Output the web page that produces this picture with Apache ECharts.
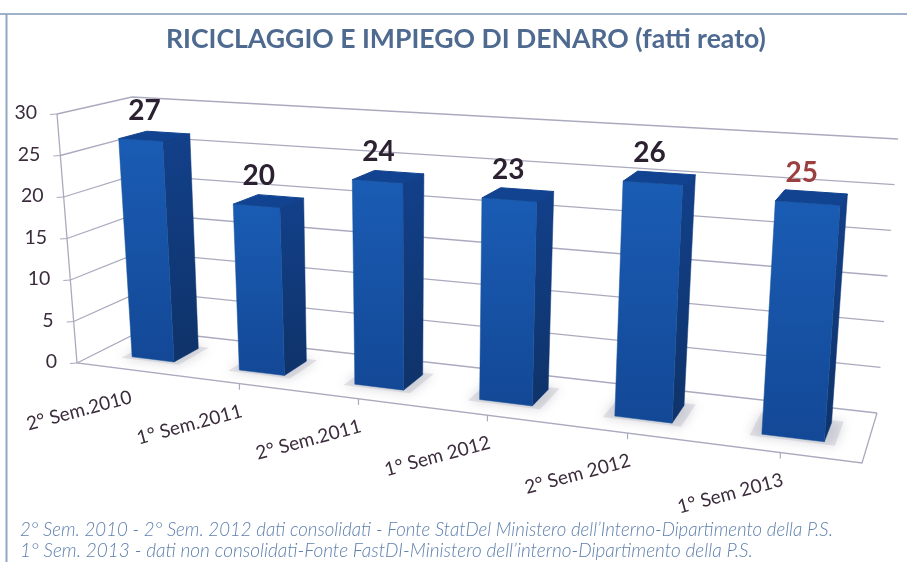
<!DOCTYPE html>
<html><head><meta charset="utf-8">
<style>html,body{margin:0;padding:0;background:#fff}#c{width:907px;height:562px}</style>
<script src="https://cdn.jsdelivr.net/npm/echarts@6/dist/echarts.min.js"></script>
</head><body><div id="c"></div>
<script>
const categories = ['2° Sem.2010','1° Sem.2011','2° Sem.2011','1° Sem 2012','2° Sem 2012','1° Sem 2013'];
const values = [27,20,24,23,26,25];
const yTicks = [0,5,10,15,20,25,30];
const titleText = 'RICICLAGGIO E IMPIEGO DI DENARO (fatti reato)';
const footnotes = [
 "2° Sem. 2010 - 2° Sem. 2012 dati consolidati - Fonte StatDel Ministero dell’Interno-Dipartimento della P.S.",
 "1° Sem. 2013 - dati non consolidati-Fonte FastDI-Ministero dell’interno-Dipartimento della P.S."
];

// perspective frame of the 3D box: corners in order FL, FR, BR, BL
const floorQuad = [[77,363],[862,463],[877,413],[143,330]];
const topQuad = [[57,114],[883,165],[898,139],[132,97]];
function homography(q){
  const [[x0,y0],[x1,y1],[x2,y2],[x3,y3]] = q;
  const dx1=x1-x2,dx2=x3-x2,sx=x0-x1+x2-x3,dy1=y1-y2,dy2=y3-y2,sy=y0-y1+y2-y3;
  const den=dx1*dy2-dx2*dy1;
  const g=(sx*dy2-dx2*sy)/den,h=(dx1*sy-sx*dy1)/den;
  const a=x1-x0+g*x1,b=x3-x0+h*x3,c=x0,d=y1-y0+g*y1,e=y3-y0+h*y3,f=y0;
  return (u,v)=>{const w=g*u+h*v+1;return [(a*u+b*v+c)/w,(d*u+e*v+f)/w];};
}
const hFloor=homography(floorQuad), hTop=homography(topQuad);
function project(u,d,v){
  const a=hFloor(u,d),b=hTop(u,d);
  return [a[0]+(b[0]-a[0])*v,a[1]+(b[1]-a[1])*v];
}
function norm(params,api,x,y){
  const p=api.coord([x,y]),cs=params.coordSys;
  return {u:(p[0]-cs.x)/cs.width,v:(cs.y+cs.height-p[1])/cs.height};
}
const BAR=0.40, D0=0.30, D1=0.69, U_SHIFT=0.006, V_SCALE=0.985;
const GRID='#aaaabf', INK='#3b2c3c';

function renderGrid(params,api){
  const val=api.value(1);
  const {v}=norm(params,api,0,val);
  const a=project(0,0,v),b=project(0,1,v),c=project(1,1,v);
  const kids=[
    {type:'polyline',shape:{points:[a,b,c]},style:{stroke:GRID,lineWidth:1.3,fill:null}},
    {type:'line',shape:{x1:a[0]-7,y1:a[1]+0.5,x2:a[0],y2:a[1]},style:{stroke:GRID,lineWidth:1.2}},
    {type:'text',x:a[0]-20,y:a[1]-1,style:{text:String(val),fontFamily:'Lato',fontSize:19.5,fill:INK,align:'right',verticalAlign:'middle'}}
  ];
  return {type:'group',children:kids};
}
function renderFrame(params,api){
  const pts=[project(0,0,1),project(0,0,0),project(1,0,0),project(1,1,0)];
  const kids=[{type:'polyline',shape:{points:pts},style:{stroke:GRID,lineWidth:1.3,fill:null}}];
  for(let i=1;i<=categories.length;i++){
    const u=norm(params,api,i-0.5,0).u, p=project(u,0,0);
    kids.push({type:'line',shape:{x1:p[0],y1:p[1],x2:p[0]-(i===categories.length?1:0),y2:p[1]+6},style:{stroke:GRID,lineWidth:1.2}});
  }
  return {type:'group',children:kids};
}
function renderXLabel(params,api){
  const i=api.value(0);
  const {u}=norm(params,api,i,0);
  const p=project(u,0,0);
  return {type:'text',x:p[0]-50,y:p[1]+41,rotation:15*Math.PI/180,
    style:{text:categories[i],fontFamily:'Lato',fontSize:19,fill:INK,align:'center',verticalAlign:'middle'}};
}
function renderBar(params,api){
  const i=api.value(0), val=api.value(1);
  const n=norm(params,api,i,val);
  const u=n.u+U_SHIFT, v=n.v*V_SCALE;
  const band=api.size([1,0])[0]/params.coordSys.width;
  const h=BAR*band/2, l=u-h, r=u+h;
  const A=(uu,d,vv)=>project(uu,d,vv);
  const e=0.012, ed=0.05;
  const foot=[A(l-e,D0-ed,0),A(r+e,D0-ed,0),A(r+e,D1+ed,0),A(l-e,D1+ed,0)];
  const side=[A(r,D0,v),A(r,D1,v),A(r,D1,0),A(r,D0,0)];
  const front=[A(l,D0,v),A(r,D0,v),A(r,D0,0),A(l,D0,0)];
  const top=[A(l,D0,v),A(r,D0,v),A(r,D1,v),A(l,D1,v)];
  const grad=(c1,c2)=>new echarts.graphic.LinearGradient(0,0,0,1,[{offset:0,color:c1},{offset:1,color:c2}]);
  return {type:'group',children:[
    {type:'polygon',shape:{points:foot},style:{fill:'rgba(170,170,185,0.3)',shadowBlur:12,shadowColor:'rgba(110,110,130,0.9)'}},
    {type:'polygon',shape:{points:top},style:{fill:'#114391',stroke:'#114391',lineWidth:1,lineJoin:'round'}},
    {type:'polygon',shape:{points:side},style:{fill:grad('#12408a','#0f3369'),stroke:'#12397a',lineWidth:0.5}},
    {type:'polygon',shape:{points:front},style:{fill:grad('#1a5cb4','#134896'),stroke:'#175299',lineWidth:0.5}}
  ]};
}
function renderValue(params,api){
  const i=api.value(0), val=api.value(1);
  const n=norm(params,api,i,val);
  const p=project(n.u+U_SHIFT,(D0+D1)/2,n.v*V_SCALE);
  return {type:'text',x:p[0]-10,y:p[1]-25,
    style:{text:String(val),fontFamily:'Lato',fontWeight:'bold',fontSize:28,fill:i===values.length-1?'#9c3f3f':'#2b2130',align:'center',verticalAlign:'middle'}};
}
const barData=values.map((y,i)=>[i,y]);
const base={type:'custom',clip:false,silent:true};
const chart=echarts.init(document.getElementById('c'),null,{renderer:'canvas'});
chart.setOption({
  animation:false,
  backgroundColor:'#ffffff',
  title:{text:titleText,left:161,top:21,textStyle:{fontFamily:'Lato',fontSize:26.6,fontWeight:'bold',color:'#4f6a90'}},
  grid:{left:100,right:100,top:100,bottom:150},
  xAxis:{type:'category',data:categories,show:false},
  yAxis:{type:'value',min:0,max:30,interval:5,show:false},
  graphic:[
    {type:'line',shape:{x1:0,y1:14,x2:907,y2:14},style:{stroke:'#8197bb',lineWidth:1.5}},
    {type:'line',shape:{x1:6.5,y1:14,x2:6.5,y2:562},style:{stroke:'#8fa5c6',lineWidth:2}},
    {type:'text',x:20,y:530,style:{text:footnotes[0],fontFamily:'Lato',fontStyle:'italic',fontWeight:300,fontSize:18.65,fill:'#5f80ad',verticalAlign:'middle'}},
    {type:'text',x:20,y:551,style:{text:footnotes[1],fontFamily:'Lato',fontStyle:'italic',fontWeight:300,fontSize:19,fill:'#5f80ad',verticalAlign:'middle'}}
  ],
  series:[
    Object.assign({},base,{name:'grid',renderItem:renderGrid,data:yTicks.map(t=>[0,t]),z:1}),
    Object.assign({},base,{name:'frame',renderItem:renderFrame,data:[[0,0]],z:2}),
    Object.assign({},base,{name:'fatti reato',renderItem:renderBar,data:barData,z:3}),
    Object.assign({},base,{name:'values',renderItem:renderValue,data:barData,z:4}),
    Object.assign({},base,{name:'xlabels',renderItem:renderXLabel,data:barData,z:4})
  ]
});
</script></body></html>
